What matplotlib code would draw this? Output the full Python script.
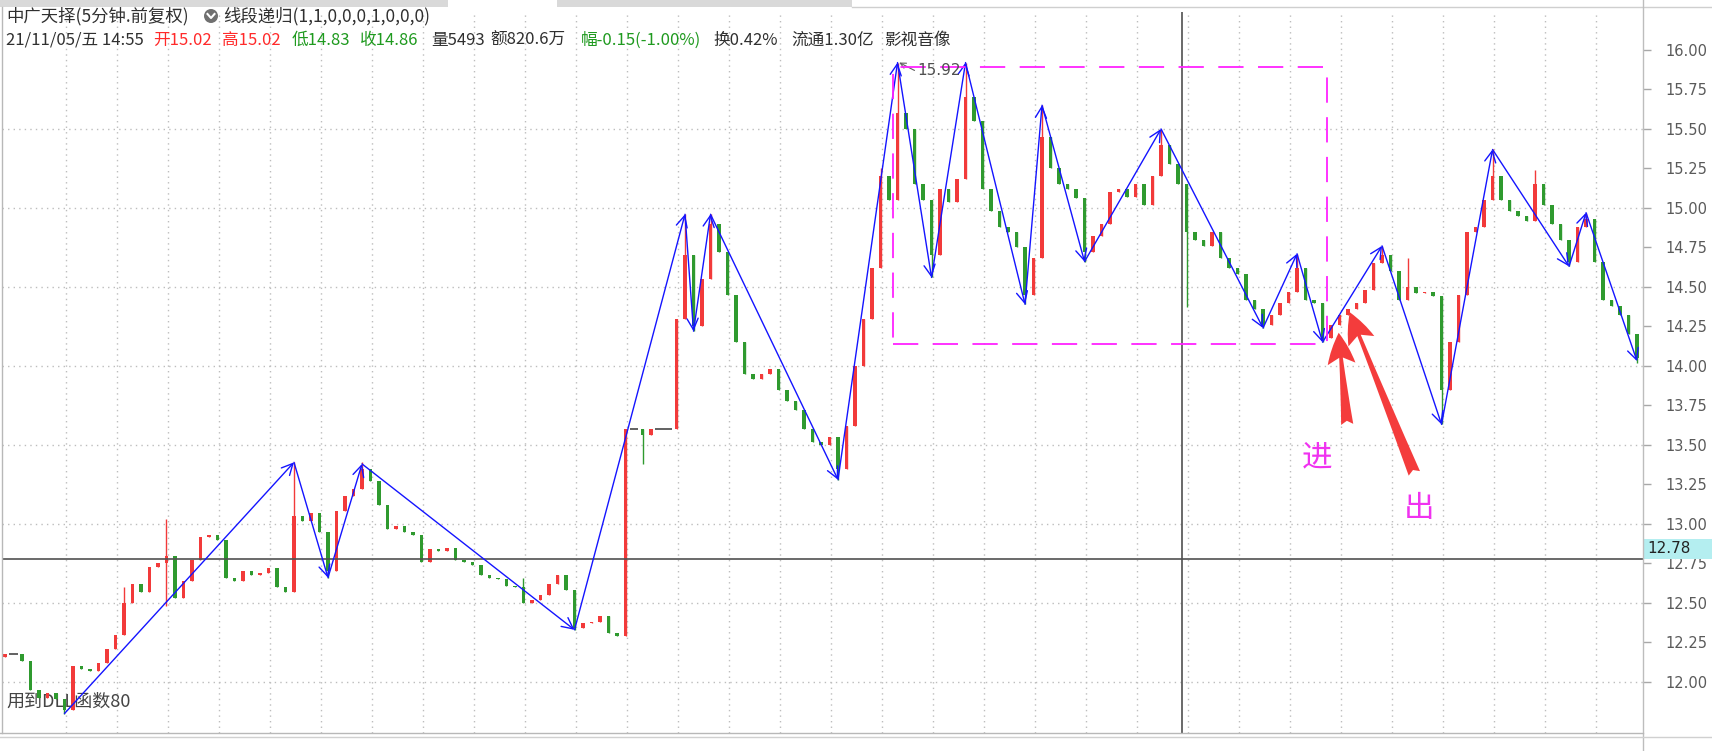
import numpy as np
import matplotlib
matplotlib.use("Agg")
import matplotlib.pyplot as plt
from matplotlib.patches import Rectangle, Circle

plt.rcParams['font.family'] = ['Noto Sans CJK SC', 'DejaVu Sans']

W, H = 1712, 751

# 5分钟K线收盘价
closes = [12.18, 12.18, 12.13, 11.95, 11.90, 11.93, 11.89, 11.82, 12.10, 12.08,
          12.07, 12.12, 12.21, 12.30, 12.50, 12.62, 12.57, 12.73, 12.75, 12.80,
          12.53, 12.64, 12.77, 12.92, 12.93, 12.90, 12.66, 12.64, 12.70, 12.68,
          12.69, 12.72, 12.60, 12.57, 13.05, 13.02, 13.07, 12.95, 12.70, 13.08,
          13.18, 13.22, 13.35, 13.27, 13.12, 12.97, 12.99, 12.95, 12.93, 12.76,
          12.84, 12.83, 12.85, 12.77, 12.76, 12.74, 12.68, 12.66, 12.65, 12.61,
          12.60, 12.50, 12.52, 12.55, 12.62, 12.68, 12.58, 12.34, 12.37, 12.38,
          12.42, 12.31, 12.29, 13.60, 13.60, 13.56, 13.60, 13.60, 13.60, 14.30,
          14.70, 14.25, 14.55, 14.90, 14.72, 14.45, 14.15, 13.95, 13.92, 13.95,
          13.98, 13.85, 13.78, 13.72, 13.60, 13.52, 13.50, 13.55, 13.35, 13.62,
          14.00, 14.30, 14.62, 15.20, 15.05, 15.60, 15.50, 15.15, 15.05, 14.70,
          15.12, 15.04, 15.18, 15.70, 15.55, 15.12, 14.98, 14.88, 14.85, 14.75,
          14.45, 14.68, 15.45, 15.25, 15.15, 15.12, 15.06, 14.72, 14.82, 14.90,
          15.10, 15.12, 15.07, 15.15, 15.02, 15.20, 15.40, 15.28, 15.15, 14.85,
          14.80, 14.76, 14.85, 14.68, 14.62, 14.58, 14.42, 14.36, 14.26, 14.32,
          14.40, 14.47, 14.62, 14.42, 14.40, 14.18, 14.26, 14.32, 14.36, 14.40,
          14.48, 14.65, 14.70, 14.60, 14.42, 14.50, 14.46, 14.47, 14.44, 13.85,
          14.15, 14.45, 14.85, 14.88, 15.05, 15.20, 15.05, 14.98, 14.95, 14.92,
          15.15, 15.02, 14.90, 14.80, 14.66, 14.88, 14.93, 14.66, 14.42, 14.38,
          14.32, 14.20, 14.05]
first_open = 12.16

# 影线 (超出实体的最高/最低价)
wick_idx = [7, 14, 19, 19, 34, 38, 42, 61, 67, 75, 80, 81, 83, 98, 103, 105, 109,
            113, 120, 122, 127, 136, 139, 148, 152, 155, 162, 165, 169, 175, 180,
            184, 186, 192]
wick_px = [11.80, 12.60, 13.03, 12.48, 13.39, 12.66, 13.39, 12.66, 12.33, 13.38,
           14.96, 14.22, 14.96, 13.28, 15.25, 15.92, 14.56, 15.92, 14.39, 15.65,
           14.66, 15.50, 14.37, 14.24, 14.71, 14.15, 14.76, 14.68, 13.63, 15.37,
           15.24, 14.63, 14.97, 14.02]

# 线段递归 转折点
zig_idx = [7, 34, 38, 42, 67, 80, 81, 83, 98, 105, 109, 113, 120, 122, 127, 136,
           148, 152, 155, 162, 169, 175, 184, 186, 192]
zig_px = [11.80, 13.39, 12.66, 13.38, 12.33, 14.96, 14.22, 14.96, 13.28, 15.92,
          14.56, 15.92, 14.39, 15.65, 14.66, 15.50, 14.24, 14.71, 14.15, 14.76,
          13.63, 15.37, 14.63, 14.97, 14.03]

box_bars = [104.5, 155.5]
box_prices = [14.14, 15.89]
peak_label = "15.92"
cursor_bar = 138.5
cursor_price = 12.78
y_ticks = np.arange(12.0, 16.001, 0.25)

title_left = "中广天择(5分钟.前复权)"
title_right = "线段递归(1,1,0,0,0,1,0,0,0)"
quote_x = [6, 153, 222, 292, 360, 431, 490, 581, 713, 791, 884]
quote_txt = ["21/11/05/五 14:55", "开15.02", "高15.02", "低14.83", "收14.86",
             "量5493", "额820.6万", "幅-0.15(-1.00%)", "换0.42%", "流通1.30亿", "影视音像"]
quote_col = ["#303030", "#ff2a2a", "#ff2a2a", "#1f9a1f", "#1f9a1f",
             "#303030", "#303030", "#1f9a1f", "#303030", "#303030", "#303030"]

RED, GREEN, DARK = "#f23a3a", "#2f9a2f", "#333333"

opens = [first_open] + closes[:-1]
highs = [max(o, c) for o, c in zip(opens, closes)]
lows = [min(o, c) for o, c in zip(opens, closes)]
for i, p in zip(wick_idx, wick_px):
    highs[i] = max(highs[i], p)
    lows[i] = min(lows[i], p)

fig = plt.figure(figsize=(W / 100, H / 100), dpi=100)
ax = fig.add_axes([2 / W, (H - 733) / H, (1643 - 2) / W, (733 - 12) / H])
ax.set_xlim(-0.35, 192.7)
ax.set_ylim(11.677, 16.24)

# 点状网格
for p in np.arange(12.0, 15.51, 0.5):
    ax.axhline(p, color="#bdbdbd", lw=1, ls=(0, (1, 3)), zorder=0)
for b in np.arange(7.2, 193, 6):
    ax.axvline(b, color="#bdbdbd", lw=1, ls=(0, (1, 3)), zorder=0)

# K线
for i, (o, c, h, l) in enumerate(zip(opens, closes, highs, lows)):
    col = RED if c > o else (GREEN if c < o else DARK)
    ax.vlines(i, l, h, color=col, lw=1, zorder=2)
    if c == o:
        ax.hlines(c, i - 0.5, i + 0.5, color="#555555", lw=1.3, zorder=2)
    else:
        ax.bar(i, abs(c - o), bottom=min(o, c), width=0.45, color=col, lw=0, zorder=2)

# 十字光标
ax.axvline(cursor_bar, color="#505050", lw=1.2, zorder=3)
ax.axhline(cursor_price, color="#505050", lw=1.2, zorder=3)

# 线段
for k in range(len(zig_idx) - 1):
    ax.annotate("", xy=(zig_idx[k + 1], zig_px[k + 1]), xytext=(zig_idx[k], zig_px[k]),
                arrowprops=dict(arrowstyle="->,head_length=0.5,head_width=0.25",
                                color="#1414ff", lw=1.0, shrinkA=0, shrinkB=0,
                                mutation_scale=16), zorder=4)

# 箱体
ax.add_patch(Rectangle((box_bars[0], box_prices[0]), box_bars[1] - box_bars[0],
                       box_prices[1] - box_prices[0], fill=False, ec="#ff22ff",
                       lw=1.3, ls=(0, (14, 8)), zorder=4))
ax.annotate("", xy=(105.2, 15.92), xytext=(107.0, 15.87),
            arrowprops=dict(arrowstyle="->", color="#606060", lw=0.8, shrinkA=0, shrinkB=0))
ax.text(107.3, 15.87, peak_label, color="#505050", fontsize=11, va="center",
        family="DejaVu Sans", zorder=5)

# 进 / 出 箭头
arrow_style = "fancy,head_length=0.9,head_width=0.8,tail_width=0.35"
ax.annotate("", xy=(156.9, 14.21), xytext=(157.9, 13.63),
            arrowprops=dict(arrowstyle=arrow_style, fc="#f43c3c", ec="none",
                            shrinkA=0, shrinkB=0, mutation_scale=25), zorder=6)
ax.annotate("", xy=(158.2, 14.34), xytext=(165.8, 13.32),
            arrowprops=dict(arrowstyle=arrow_style, fc="#f43c3c", ec="none",
                            shrinkA=0, shrinkB=0, mutation_scale=25), zorder=6)
ax.text(154.4, 13.42, "进", color="#f032f0", fontsize=22, ha="center", va="center")
ax.text(166.4, 13.10, "出", color="#f032f0", fontsize=22, ha="center", va="center")

ax.text(0.2, 11.875, "用到DLL函数80", color="#444444", fontsize=13, va="center", zorder=1)

# 右侧价格轴
ax.yaxis.tick_right()
ax.set_yticks(y_ticks)
ax.set_yticklabels([f"{v:.2f}" for v in y_ticks], family="DejaVu Sans")
ax.tick_params(axis="y", length=6, width=1, color="#a8a8a8", labelcolor="#5a5a5a",
               labelsize=10.5, pad=10)
ax.set_xticks([])
for s in ax.spines.values():
    s.set_visible(False)

# 覆盖层 (像素坐标)
ov = fig.add_axes([0, 0, 1, 1], zorder=10)
ov.set_xlim(0, W)
ov.set_ylim(H, 0)
ov.axis("off")
ov.patch.set_alpha(0)

ov.add_patch(Rectangle((0, 0), 448, 7, fc="#d9d9d9", ec="none"))
ov.add_patch(Rectangle((557, 0), 295, 7, fc="#d9d9d9", ec="none"))
ov.plot([852, W], [7, 7], color="#cfcfcf", lw=1)
ov.plot([2, 2], [7, 733], color="#b8b8b8", lw=1)
ov.plot([1643, 1643], [0, H], color="#bdbdbd", lw=1)
ov.plot([0, 1643], [733, 733], color="#b8b8b8", lw=1)
ov.plot([0, W], [737, 737], color="#d0d0d0", lw=1)

ov.text(6, 16, title_left, color="#303030", fontsize=12.5, va="center")
ov.add_patch(Circle((211, 16), 7, fc="#707070", ec="none"))
ov.plot([207.5, 211, 214.5], [14, 18, 14], color="white", lw=1.5)
ov.text(223, 16, title_right, color="#303030", fontsize=12.5, va="center")
for x, t, c in zip(quote_x, quote_txt, quote_col):
    ov.text(x, 40, t, color=c, fontsize=12, va="center")

cy = H - ax.transData.transform((0, cursor_price))[1]
ov.add_patch(Rectangle((1644, cy - 20), W - 1644, 20, fc="#b4eef0", ec="none"))
ov.text(1647, cy - 10, f"{cursor_price:.2f}", color="#222222", fontsize=11,
        va="center", family="DejaVu Sans")

fig.savefig("out.png", dpi=100)
